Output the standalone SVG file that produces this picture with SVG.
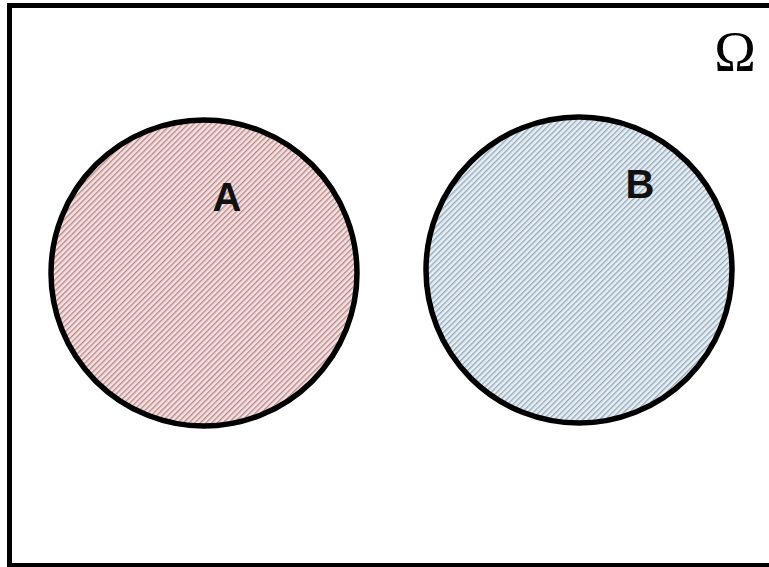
<svg xmlns="http://www.w3.org/2000/svg" width="769" height="567" viewBox="0 0 769 567">
<style>
.frame{fill:#ffffff;stroke:#000000;stroke-width:5}
.set{stroke:#000000;stroke-width:5.5}
.lbl{font-family:"Liberation Sans",Arial,sans-serif;font-weight:bold;font-size:40px;fill:#111111;text-anchor:middle}
.omega{font-family:"Liberation Serif","Times New Roman",serif;font-size:56px;fill:#000000;text-anchor:middle}
</style>
<defs>
<pattern id="hatchA" width="4" height="4" patternUnits="userSpaceOnUse" patternTransform="rotate(45)">
<rect width="4" height="4" fill="#f6e0e0"/>
<rect width="1.4" height="4" fill="#b88c8c"/>
</pattern>
<pattern id="hatchB" width="4" height="4" patternUnits="userSpaceOnUse" patternTransform="rotate(45)">
<rect width="4" height="4" fill="#e6eff5"/>
<rect width="1.4" height="4" fill="#9aaaba"/>
</pattern>
</defs>
<rect id="universe" class="frame" x="9.5" y="5.5" width="770" height="560"/>
<g id="omega"><text class="omega" x="735" y="71">Ω</text></g>
<g id="setA">
<circle class="set" cx="204" cy="273" r="153" fill="url(#hatchA)"/>
<text class="lbl" x="227" y="211">A</text>
</g>
<g id="setB">
<circle class="set" cx="579" cy="270" r="153" fill="url(#hatchB)"/>
<text class="lbl" x="640" y="198">B</text>
</g>
<g id="connectors"></g>
</svg>
